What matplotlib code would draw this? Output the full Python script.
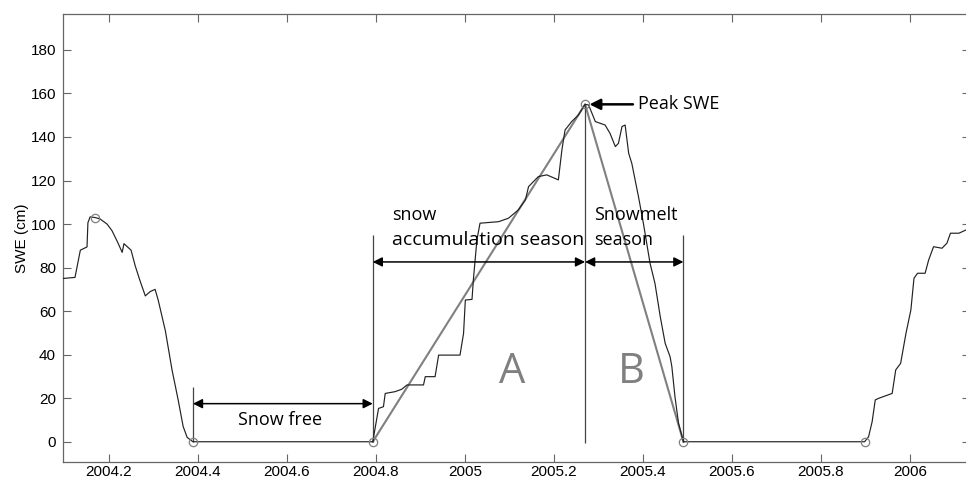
import matplotlib
matplotlib.use("Agg")
import matplotlib.pyplot as plt

plt.rcParams["font.family"] = ["Liberation Sans", "DejaVu Sans"]

# SWE record (decimal year, cm)
years = [2004.097, 2004.124, 2004.136, 2004.151, 2004.153, 2004.158, 2004.169,
         2004.180, 2004.196, 2004.207, 2004.219, 2004.230, 2004.234, 2004.250,
         2004.259, 2004.270, 2004.282, 2004.293, 2004.304, 2004.311, 2004.327,
         2004.342, 2004.356, 2004.367, 2004.376, 2004.389,
         2004.793, 2004.806, 2004.817, 2004.821, 2004.843, 2004.858, 2004.870,
         2004.907, 2004.911, 2004.933, 2004.941, 2004.989, 2004.997, 2005.001,
         2005.016, 2005.019, 2005.027, 2005.034, 2005.076, 2005.098, 2005.120,
         2005.136, 2005.143, 2005.165, 2005.184, 2005.210, 2005.218, 2005.225,
         2005.240, 2005.255, 2005.270,
         2005.278, 2005.293, 2005.304, 2005.315, 2005.326, 2005.338, 2005.345,
         2005.353, 2005.360, 2005.368, 2005.375, 2005.390, 2005.401, 2005.416,
         2005.427, 2005.439, 2005.450, 2005.461, 2005.465, 2005.472, 2005.480,
         2005.491,
         2005.898, 2005.907, 2005.915, 2005.922, 2005.929, 2005.960, 2005.968,
         2005.979, 2005.991, 2006.002, 2006.009, 2006.017, 2006.034, 2006.042,
         2006.053, 2006.072, 2006.083, 2006.091, 2006.110, 2006.126]
swe = [75, 75.5, 88, 89.5, 100.6, 103.3, 103,
       102.4, 100, 97, 92, 87, 91, 88,
       81, 74, 67, 69, 70, 65, 51,
       33, 19, 7, 2, 0,
       0, 15.3, 16.1, 22.2, 23.0, 24.1, 26.1,
       26.1, 29.9, 29.9, 39.8, 39.8, 49.8, 65.1,
       65.4, 74.3, 92.7, 100.4, 101.1, 102.7, 106.5,
       111.1, 117.2, 121.8, 122.6, 120.3, 134.1, 143.2,
       147.1, 150.1, 155,
       154.7, 147.1, 146.3, 145.5, 141.7, 135.6, 137.1,
       144.8, 145.5, 132.5, 127.9, 112.6, 100.4, 82.0,
       72.8, 57.4, 45.2, 39.1, 34.5, 20.7, 8.5,
       0,
       0, 2.3, 9.2, 19.2, 19.9, 22.2, 33.0,
       36.0, 49.8, 60.5, 75.1, 77.4, 77.4, 83.5,
       89.6, 88.9, 91.2, 95.8, 95.8, 97.3]

# season markers: previous peak, melt-out dates, onset dates, main peak
peak_prev = (2004.169, 103)
melt_out = [2004.389, 2005.491]
onset = [2004.793, 2005.898]
peak_year, peak_swe = 2005.270, 155

xticks = [2004.2, 2004.4, 2004.6, 2004.8, 2005, 2005.2, 2005.4, 2005.6, 2005.8, 2006]
xticklabels = ["2004.2", "2004.4", "2004.6", "2004.8", "2005", "2005.2",
               "2005.4", "2005.6", "2005.8", "2006"]
yticks = list(range(0, 181, 20))

gray = "#808080"
axcol = "#666666"
annot = dict(family=["Open Sans", "DejaVu Sans"], fontsize=13)

fig = plt.figure(figsize=(9.66, 4.83), dpi=100)
ax = fig.add_axes([0.0652, 0.0435, 0.939, 0.9275])

ax.plot(years, swe, color="#222222", lw=0.85, zorder=3)

# triangle approximations of the two seasons
ax.plot([onset[0], peak_year, melt_out[1]], [0, peak_swe, 0], color=gray, lw=1.5, zorder=2)

circ_x = [peak_prev[0], melt_out[0], onset[0], peak_year, melt_out[1], onset[1]]
circ_y = [peak_prev[1], 0, 0, peak_swe, 0, 0]
ax.plot(circ_x, circ_y, "o", mfc="none", mec=gray, ms=6, mew=0.9, zorder=4)

# season boundaries
vcol = "#444444"
ax.vlines(melt_out[0], 0, 25, color=vcol, lw=0.9)
ax.vlines(onset[0], 0, 95, color=vcol, lw=0.9)
ax.vlines(peak_year, -0.5, peak_swe, color=vcol, lw=0.9)
ax.vlines(melt_out[1], 0, 95, color=vcol, lw=0.9)

arrow = dict(arrowstyle="<|-|>", color="black", lw=1.1, mutation_scale=14, shrinkA=0, shrinkB=0)
ax.annotate("", xy=(melt_out[0], 17.5), xytext=(onset[0], 17.5), arrowprops=arrow)
ax.annotate("", xy=(onset[0], 82.6), xytext=(peak_year, 82.6), arrowprops=arrow)
ax.annotate("", xy=(peak_year, 82.6), xytext=(melt_out[1], 82.6), arrowprops=arrow)

ax.text(2004.585, 7.7, "Snow free", ha="center", va="baseline", **annot)
ax.text(2004.837, 102, "snow", ha="left", va="baseline", **annot)
ax.text(2004.837, 90.5, "accumulation season", ha="left", va="baseline",
        family=annot["family"], fontsize=14)
ax.text(2005.291, 102, "Snowmelt", ha="left", va="baseline", **annot)
ax.text(2005.291, 90.5, "season", ha="left", va="baseline", **annot)
ax.text(2005.106, 32, "A", fontsize=30, family=annot["family"], color=gray,
        ha="center", va="center")
ax.text(2005.374, 32, "B", fontsize=30, family=annot["family"], color=gray,
        ha="center", va="center")

ax.annotate("Peak SWE", xy=(2005.28, peak_swe), xytext=(2005.39, peak_swe),
            va="center", ha="left",
            arrowprops=dict(arrowstyle="-|>", color="black", lw=1.8, mutation_scale=16,
                            shrinkA=2, shrinkB=0), **annot)

ax.set_xlim(2004.097, 2006.135)
ax.set_ylim(-9.3, 196.5)
ax.set_xticks(xticks)
ax.set_xticklabels(xticklabels)
ax.set_yticks(yticks)
ax.tick_params(direction="in", length=6, width=0.8, color=axcol, top=True, right=True,
               labelsize=11)
ax.tick_params(axis="x", pad=2.5)
ax.tick_params(axis="y", pad=5)
for s in ax.spines.values():
    s.set_color(axcol)
    s.set_linewidth(0.9)
ax.set_ylabel("SWE (cm)", fontsize=11, labelpad=1)

fig.savefig("out.png", dpi=100)
